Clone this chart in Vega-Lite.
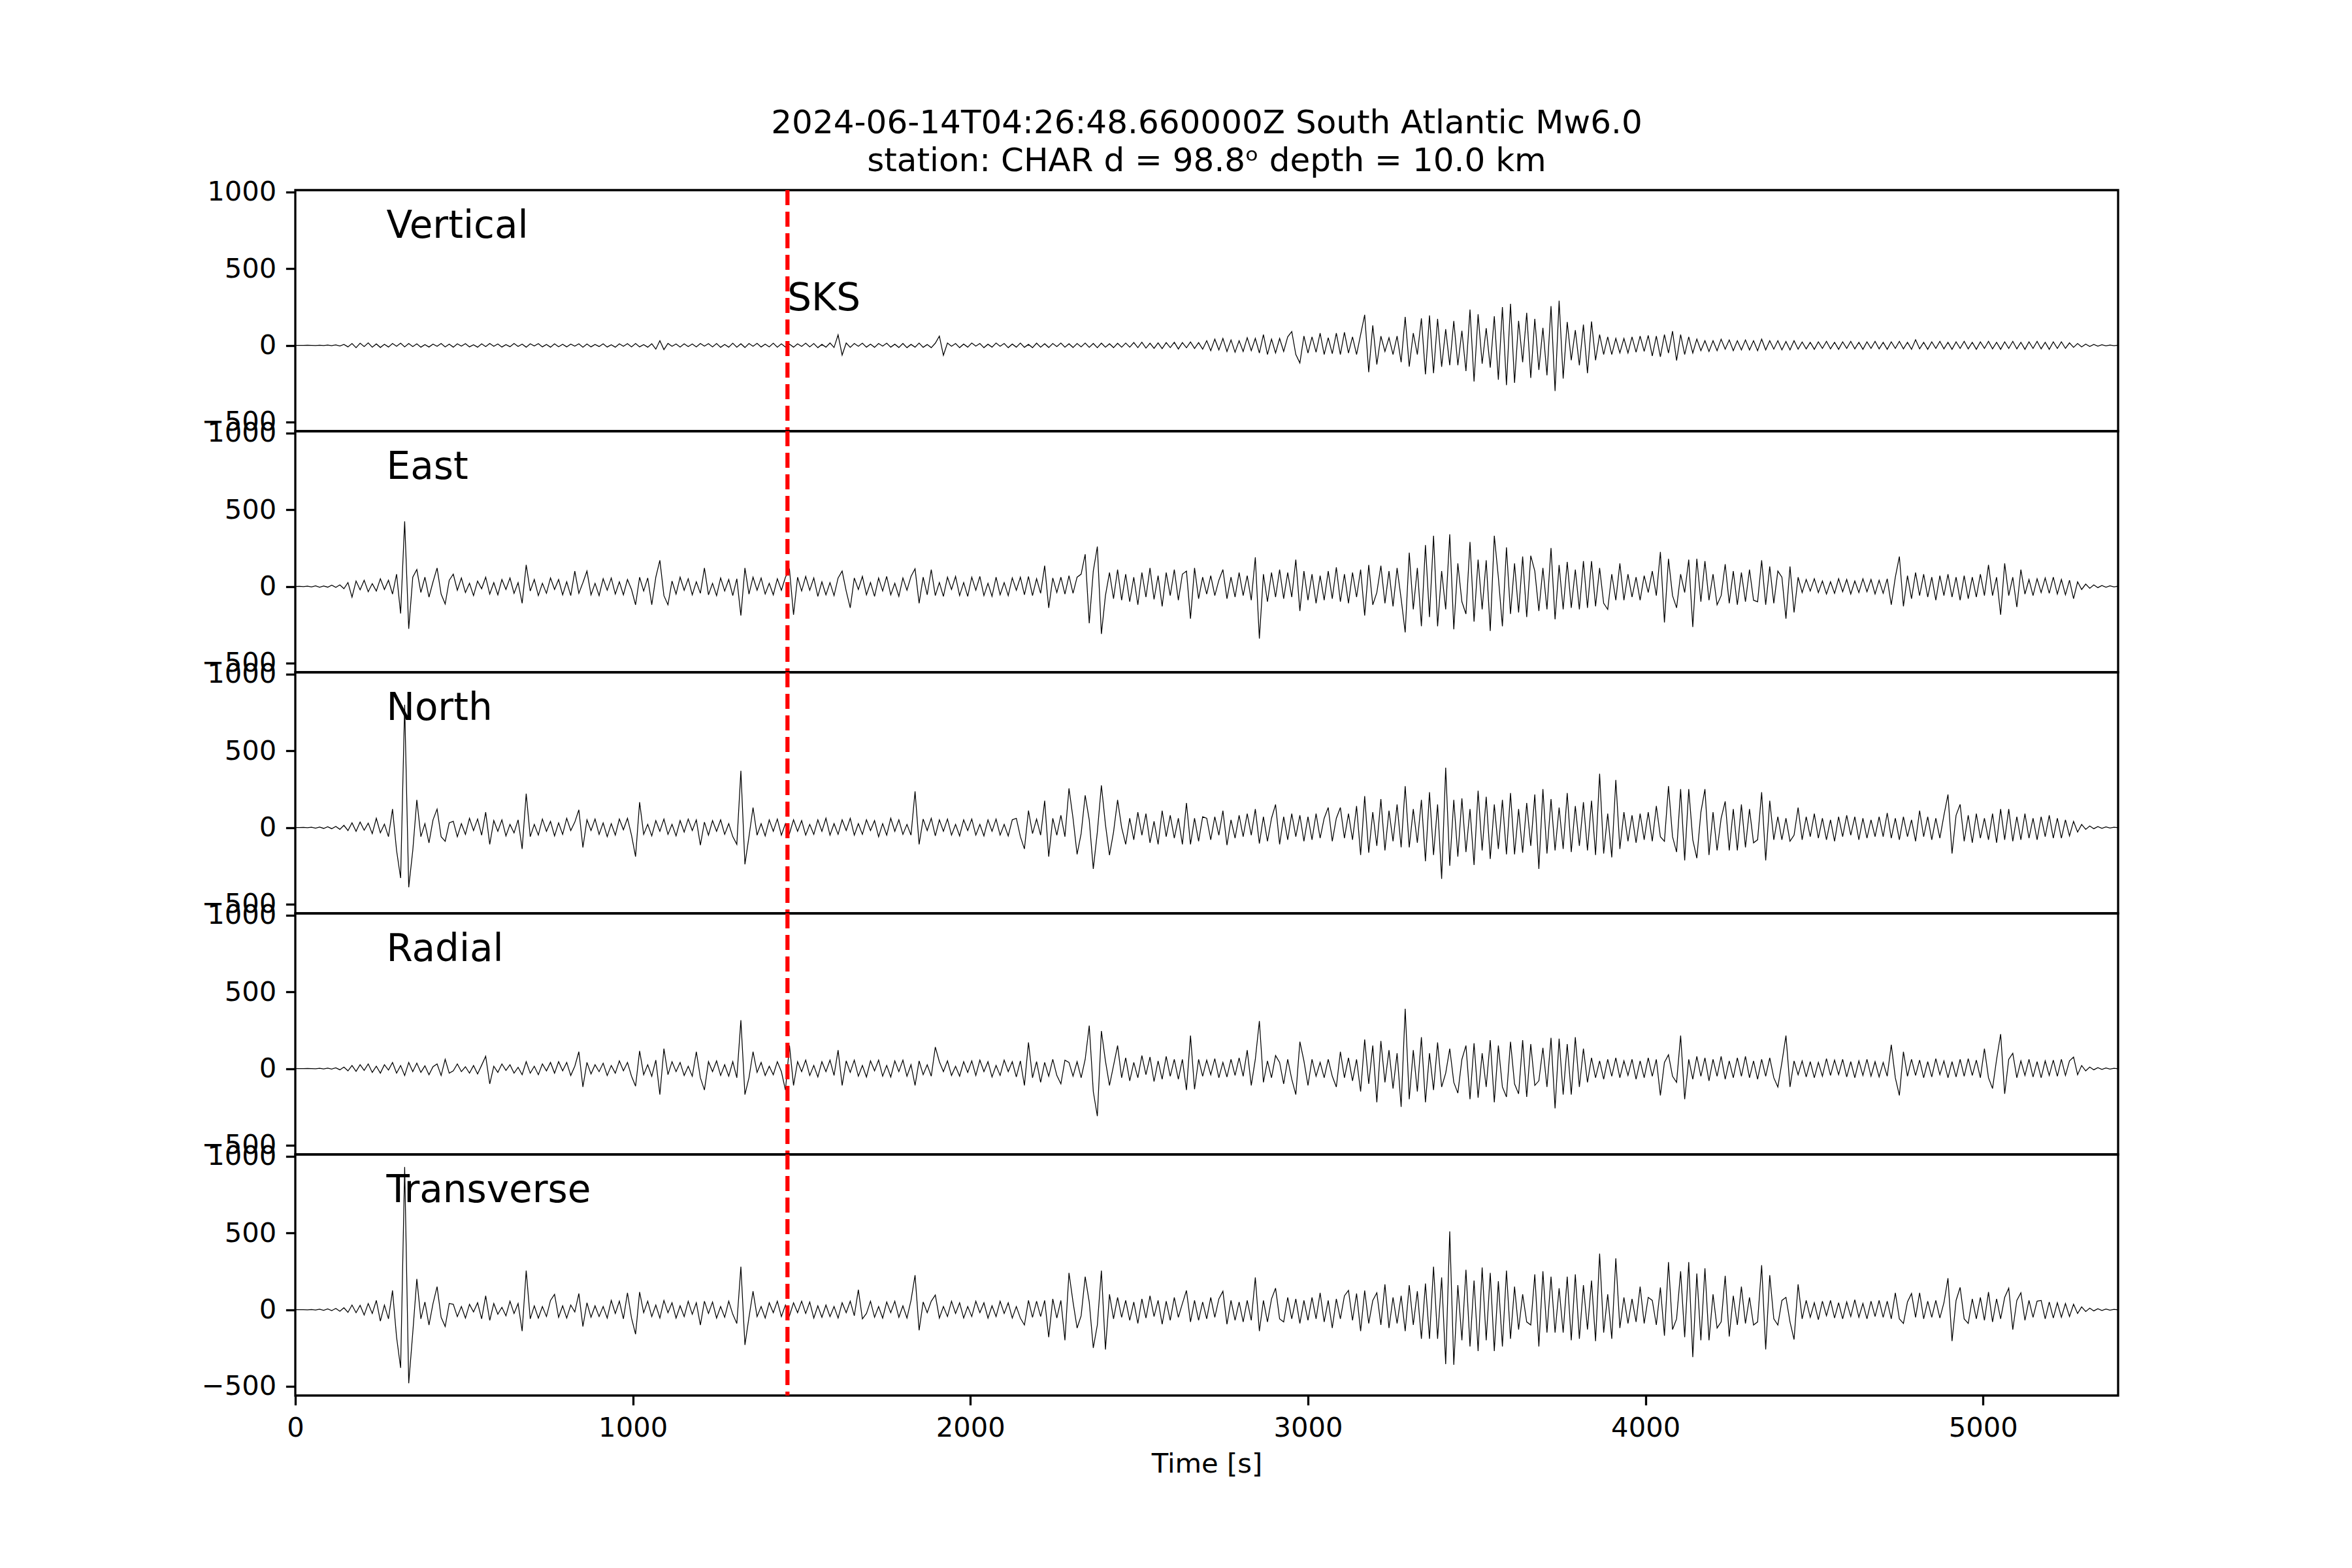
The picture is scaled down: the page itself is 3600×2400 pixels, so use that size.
{
"$schema": "https://vega.github.io/schema/vega-lite/v6.json",
"background": "white",
"padding": {"left": 306, "top": 164, "right": 20, "bottom": 20},
"title": {"text": ["2024-06-14T04:26:48.660000Z South Atlantic Mw6.0", "station: CHAR d = 98.8ᵒ depth = 10.0 km"], "font": "DejaVu Sans", "fontSize": 50, "fontWeight": "normal", "color": "black", "lineHeight": 58, "offset": 0, "anchor": "middle", "frame": "group"},
"data": {"values": [
{"t":0,"V":0,"E":0,"N":0,"R":0,"T":0},
{"t":12,"V":0,"E":1,"N":0,"R":0,"T":0},
{"t":24,"V":0,"E":-1,"N":1,"R":0,"T":0},
{"t":36,"V":1,"E":2,"N":-1,"R":1,"T":-1},
{"t":48,"V":0,"E":-3,"N":2,"R":0,"T":1},
{"t":60,"V":-1,"E":4,"N":-4,"R":-1,"T":-2},
{"t":72,"V":1,"E":-6,"N":3,"R":2,"T":3},
{"t":84,"V":-1,"E":3,"N":-6,"R":-2,"T":-4},
{"t":96,"V":2,"E":-5,"N":5,"R":3,"T":5},
{"t":108,"V":-2,"E":8,"N":-8,"R":-3,"T":-6},
{"t":120,"V":3,"E":-6,"N":7,"R":5,"T":8},
{"t":132,"V":-4,"E":10,"N":-12,"R":-8,"T":-10},
{"t":144,"V":6,"E":-15,"N":14,"R":10,"T":12},
{"t":156,"V":-10,"E":25,"N":-20,"R":-15,"T":-18},
{"t":168,"V":12,"E":-70,"N":30,"R":20,"T":30},
{"t":180,"V":-15,"E":35,"N":-25,"R":-18,"T":-20},
{"t":192,"V":14,"E":-22,"N":35,"R":25,"T":28},
{"t":204,"V":-8,"E":40,"N":-18,"R":-12,"T":-35},
{"t":216,"V":16,"E":-35,"N":28,"R":30,"T":40},
{"t":228,"V":-12,"E":18,"N":-40,"R":-25,"T":-25},
{"t":240,"V":9,"E":-30,"N":60,"R":15,"T":60},
{"t":252,"V":-14,"E":50,"N":-35,"R":-30,"T":-75},
{"t":264,"V":7,"E":-20,"N":22,"R":25,"T":30},
{"t":276,"V":-11,"E":40,"N":-60,"R":-10,"T":-60},
{"t":288,"V":12,"E":-50,"N":120,"R":40,"T":125},
{"t":300,"V":-6,"E":80,"N":-150,"R":-30,"T":-180},
{"t":312,"V":14,"E":-177,"N":-330,"R":20,"T":-380},
{"t":324,"V":-10,"E":424,"N":800,"R":-45,"T":930},
{"t":336,"V":12,"E":-277,"N":-390,"R":40,"T":-480},
{"t":348,"V":-8,"E":60,"N":-150,"R":-20,"T":-150},
{"t":360,"V":10,"E":110,"N":180,"R":35,"T":200},
{"t":372,"V":-12,"E":-40,"N":-60,"R":-25,"T":-60},
{"t":384,"V":5,"E":60,"N":25,"R":18,"T":50},
{"t":396,"V":-11,"E":-70,"N":-100,"R":-40,"T":-100},
{"t":408,"V":8,"E":30,"N":50,"R":12,"T":40},
{"t":420,"V":-6,"E":120,"N":120,"R":30,"T":150},
{"t":432,"V":12,"E":-50,"N":-60,"R":-45,"T":-50},
{"t":444,"V":-10,"E":-115,"N":-90,"R":60,"T":-110},
{"t":456,"V":8,"E":40,"N":30,"R":-30,"T":40},
{"t":468,"V":-12,"E":80,"N":40,"R":-15,"T":35},
{"t":480,"V":10,"E":-25,"N":-60,"R":30,"T":-45},
{"t":492,"V":-5,"E":55,"N":25,"R":-20,"T":20},
{"t":504,"V":11,"E":-40,"N":-45,"R":12,"T":-55},
{"t":516,"V":-10,"E":20,"N":60,"R":-30,"T":35},
{"t":528,"V":4,"E":-60,"N":-20,"R":20,"T":-15},
{"t":540,"V":-12,"E":35,"N":55,"R":-35,"T":45},
{"t":552,"V":10,"E":-15,"N":-50,"R":22,"T":-60},
{"t":564,"V":-8,"E":60,"N":100,"R":80,"T":90},
{"t":576,"V":12,"E":-50,"N":-110,"R":-100,"T":-70},
{"t":588,"V":-6,"E":25,"N":45,"R":15,"T":40},
{"t":600,"V":9,"E":-55,"N":-25,"R":-25,"T":-30},
{"t":612,"V":-11,"E":45,"N":50,"R":30,"T":15},
{"t":624,"V":5,"E":-20,"N":-55,"R":-12,"T":-40},
{"t":636,"V":-9,"E":55,"N":20,"R":25,"T":55},
{"t":648,"V":12,"E":-45,"N":-35,"R":-30,"T":-25},
{"t":660,"V":-7,"E":25,"N":50,"R":8,"T":40},
{"t":672,"V":8,"E":-110,"N":-140,"R":-40,"T":-140},
{"t":684,"V":-12,"E":140,"N":220,"R":45,"T":255},
{"t":696,"V":10,"E":-30,"N":-60,"R":-30,"T":-60},
{"t":708,"V":-4,"E":45,"N":20,"R":15,"T":25},
{"t":720,"V":11,"E":-60,"N":-50,"R":-40,"T":-55},
{"t":732,"V":-10,"E":20,"N":55,"R":30,"T":20},
{"t":744,"V":6,"E":-45,"N":-25,"R":-15,"T":-45},
{"t":756,"V":-12,"E":55,"N":40,"R":40,"T":60},
{"t":768,"V":10,"E":-20,"N":-55,"R":-30,"T":100},
{"t":780,"V":-9,"E":45,"N":30,"R":45,"T":-50},
{"t":792,"V":7,"E":-55,"N":-45,"R":-15,"T":25},
{"t":804,"V":-10,"E":30,"N":60,"R":40,"T":-55},
{"t":816,"V":8,"E":-60,"N":-20,"R":-45,"T":30},
{"t":828,"V":-5,"E":100,"N":35,"R":15,"T":-15},
{"t":840,"V":10,"E":-45,"N":115,"R":110,"T":105},
{"t":852,"V":-12,"E":25,"N":-130,"R":-120,"T":-110},
{"t":864,"V":9,"E":100,"N":50,"R":40,"T":45},
{"t":876,"V":-10,"E":-55,"N":-20,"R":-35,"T":-50},
{"t":888,"V":6,"E":20,"N":55,"R":25,"T":25},
{"t":900,"V":-8,"E":-60,"N":-45,"R":-20,"T":-45},
{"t":912,"V":10,"E":50,"N":30,"R":35,"T":20},
{"t":924,"V":-11,"E":-25,"N":-60,"R":-45,"T":-55},
{"t":936,"V":4,"E":55,"N":25,"R":20,"T":60},
{"t":948,"V":-12,"E":-50,"N":-50,"R":-30,"T":-25},
{"t":960,"V":10,"E":30,"N":55,"R":50,"T":55},
{"t":972,"V":-6,"E":-55,"N":-15,"R":-15,"T":-60},
{"t":984,"V":11,"E":45,"N":60,"R":40,"T":110},
{"t":996,"V":-10,"E":-20,"N":-50,"R":-50,"T":-55},
{"t":1008,"V":12,"E":-120,"N":-190,"R":-115,"T":-160},
{"t":1020,"V":-10,"E":60,"N":165,"R":115,"T":115},
{"t":1032,"V":5,"E":-30,"N":-45,"R":-40,"T":-20},
{"t":1044,"V":-12,"E":55,"N":20,"R":25,"T":55},
{"t":1056,"V":10,"E":-120,"N":-55,"R":-50,"T":-45},
{"t":1068,"V":-25,"E":60,"N":45,"R":55,"T":30},
{"t":1080,"V":30,"E":170,"N":-25,"R":-170,"T":-55},
{"t":1092,"V":-28,"E":-60,"N":55,"R":130,"T":60},
{"t":1104,"V":12,"E":-120,"N":-45,"R":-40,"T":-20},
{"t":1116,"V":-6,"E":35,"N":20,"R":45,"T":45},
{"t":1128,"V":9,"E":-50,"N":-55,"R":-20,"T":-55},
{"t":1140,"V":-11,"E":60,"N":45,"R":40,"T":25},
{"t":1152,"V":10,"E":-25,"N":-30,"R":-45,"T":-45},
{"t":1164,"V":-8,"E":50,"N":55,"R":15,"T":55},
{"t":1176,"V":9,"E":-55,"N":-20,"R":-50,"T":-30},
{"t":1188,"V":-10,"E":30,"N":50,"R":110,"T":45},
{"t":1200,"V":12,"E":-45,"N":-115,"R":-60,"T":-100},
{"t":1212,"V":-5,"E":120,"N":35,"R":-140,"T":55},
{"t":1224,"V":11,"E":-55,"N":-50,"R":45,"T":-25},
{"t":1236,"V":-10,"E":20,"N":45,"R":-20,"T":50},
{"t":1248,"V":12,"E":-60,"N":-25,"R":50,"T":-55},
{"t":1260,"V":-13,"E":55,"N":50,"R":-45,"T":20},
{"t":1272,"V":6,"E":-30,"N":-45,"R":25,"T":-50},
{"t":1284,"V":-12,"E":45,"N":25,"R":-50,"T":55},
{"t":1296,"V":14,"E":-60,"N":-60,"R":45,"T":-30},
{"t":1308,"V":-12,"E":50,"N":-110,"R":-60,"T":-90},
{"t":1320,"V":10,"E":-190,"N":370,"R":315,"T":280},
{"t":1332,"V":-14,"E":120,"N":-240,"R":-170,"T":-230},
{"t":1344,"V":12,"E":-50,"N":-60,"R":-60,"T":-50},
{"t":1356,"V":-6,"E":60,"N":130,"R":110,"T":120},
{"t":1368,"V":13,"E":-25,"N":-50,"R":-25,"T":-45},
{"t":1380,"V":-11,"E":55,"N":25,"R":40,"T":20},
{"t":1392,"V":8,"E":-50,"N":-55,"R":-45,"T":-55},
{"t":1404,"V":-10,"E":20,"N":50,"R":15,"T":45},
{"t":1416,"V":14,"E":-55,"N":-25,"R":-40,"T":-20},
{"t":1428,"V":-12,"E":50,"N":55,"R":45,"T":55},
{"t":1440,"V":10,"E":-25,"N":-50,"R":-20,"T":-45},
{"t":1452,"V":-11,"E":60,"N":25,"R":-140,"T":30},
{"t":1464,"V":8,"E":110,"N":-40,"R":150,"T":-40},
{"t":1476,"V":-12,"E":-185,"N":50,"R":-110,"T":45},
{"t":1488,"V":10,"E":60,"N":-25,"R":45,"T":-20},
{"t":1500,"V":-7,"E":-30,"N":45,"R":-20,"T":55},
{"t":1512,"V":14,"E":65,"N":-50,"R":55,"T":-25},
{"t":1524,"V":-10,"E":-25,"N":20,"R":-45,"T":50},
{"t":1536,"V":12,"E":55,"N":-45,"R":20,"T":-55},
{"t":1548,"V":-15,"E":-65,"N":50,"R":-55,"T":25},
{"t":1560,"V":6,"E":30,"N":-25,"R":45,"T":-50},
{"t":1572,"V":-12,"E":-55,"N":60,"R":-20,"T":30},
{"t":1584,"V":15,"E":25,"N":-50,"R":55,"T":-45},
{"t":1596,"V":-14,"E":-60,"N":25,"R":-45,"T":20},
{"t":1608,"V":68,"E":55,"N":-45,"R":120,"T":-55},
{"t":1620,"V":-64,"E":100,"N":50,"R":-110,"T":45},
{"t":1632,"V":15,"E":-30,"N":-20,"R":50,"T":-20},
{"t":1644,"V":-13,"E":-140,"N":60,"R":-25,"T":55},
{"t":1656,"V":12,"E":55,"N":-50,"R":55,"T":-40},
{"t":1668,"V":-6,"E":-20,"N":25,"R":-50,"T":130},
{"t":1680,"V":14,"E":65,"N":-45,"R":20,"T":-60},
{"t":1692,"V":-12,"E":-55,"N":50,"R":-55,"T":-25},
{"t":1704,"V":8,"E":25,"N":-20,"R":50,"T":55},
{"t":1716,"V":-13,"E":-65,"N":45,"R":-15,"T":-50},
{"t":1728,"V":12,"E":55,"N":-60,"R":55,"T":20},
{"t":1740,"V":-5,"E":-30,"N":25,"R":-50,"T":-55},
{"t":1752,"V":14,"E":65,"N":-50,"R":20,"T":50},
{"t":1764,"V":-12,"E":-55,"N":60,"R":-55,"T":-20},
{"t":1776,"V":7,"E":20,"N":-25,"R":50,"T":55},
{"t":1788,"V":-14,"E":-65,"N":50,"R":-20,"T":-50},
{"t":1800,"V":12,"E":55,"N":-45,"R":55,"T":25},
{"t":1812,"V":-15,"E":-25,"N":20,"R":-50,"T":-55},
{"t":1824,"V":6,"E":65,"N":-50,"R":25,"T":60},
{"t":1836,"V":-12,"E":115,"N":235,"R":-110,"T":225},
{"t":1848,"V":15,"E":-110,"N":-110,"R":50,"T":-135},
{"t":1860,"V":-13,"E":60,"N":55,"R":-40,"T":50},
{"t":1872,"V":5,"E":-55,"N":-20,"R":25,"T":-20},
{"t":1884,"V":-15,"E":110,"N":60,"R":-50,"T":55},
{"t":1896,"V":14,"E":-60,"N":-55,"R":140,"T":95},
{"t":1908,"V":60,"E":25,"N":50,"R":45,"T":-55},
{"t":1920,"V":-65,"E":-65,"N":-25,"R":-20,"T":20},
{"t":1932,"V":15,"E":60,"N":55,"R":50,"T":-45},
{"t":1944,"V":-6,"E":-20,"N":-50,"R":-45,"T":55},
{"t":1956,"V":12,"E":65,"N":20,"R":15,"T":-25},
{"t":1968,"V":-15,"E":-60,"N":-55,"R":-50,"T":45},
{"t":1980,"V":8,"E":25,"N":50,"R":45,"T":-55},
{"t":1992,"V":-12,"E":-65,"N":-20,"R":-25,"T":20},
{"t":2004,"V":15,"E":60,"N":55,"R":50,"T":-45},
{"t":2016,"V":-5,"E":-25,"N":-50,"R":-45,"T":55},
{"t":2028,"V":12,"E":65,"N":20,"R":55,"T":-20},
{"t":2040,"V":-15,"E":-60,"N":-55,"R":-20,"T":45},
{"t":2052,"V":7,"E":20,"N":50,"R":45,"T":-55},
{"t":2064,"V":-12,"E":-65,"N":-25,"R":-55,"T":25},
{"t":2076,"V":15,"E":60,"N":55,"R":20,"T":-45},
{"t":2088,"V":-6,"E":-55,"N":-50,"R":-45,"T":55},
{"t":2100,"V":12,"E":25,"N":20,"R":55,"T":-25},
{"t":2112,"V":-15,"E":-60,"N":-55,"R":-20,"T":45},
{"t":2124,"V":8,"E":55,"N":50,"R":45,"T":-55},
{"t":2136,"V":-12,"E":-25,"N":60,"R":-55,"T":20},
{"t":2148,"V":15,"E":60,"N":-60,"R":50,"T":-55},
{"t":2160,"V":-13,"E":-55,"N":-140,"R":-110,"T":-100},
{"t":2172,"V":6,"E":65,"N":110,"R":170,"T":60},
{"t":2184,"V":-15,"E":-60,"N":-40,"R":-60,"T":-50},
{"t":2196,"V":14,"E":50,"N":55,"R":45,"T":55},
{"t":2208,"V":-12,"E":-45,"N":-50,"R":-90,"T":-45},
{"t":2220,"V":10,"E":135,"N":175,"R":40,"T":60},
{"t":2232,"V":-14,"E":-140,"N":-190,"R":-50,"T":-180},
{"t":2244,"V":12,"E":55,"N":60,"R":60,"T":70},
{"t":2256,"V":-8,"E":-40,"N":-50,"R":-45,"T":-55},
{"t":2268,"V":15,"E":60,"N":80,"R":-100,"T":60},
{"t":2280,"V":-12,"E":-50,"N":-60,"R":55,"T":-200},
{"t":2292,"V":10,"E":70,"N":255,"R":40,"T":240},
{"t":2304,"V":-14,"E":-45,"N":60,"R":-50,"T":50},
{"t":2316,"V":12,"E":60,"N":-175,"R":45,"T":-120},
{"t":2328,"V":-10,"E":80,"N":-40,"R":-60,"T":-40},
{"t":2340,"V":15,"E":210,"N":210,"R":60,"T":215},
{"t":2352,"V":-13,"E":-240,"N":50,"R":280,"T":50},
{"t":2364,"V":12,"E":100,"N":-270,"R":-150,"T":-250},
{"t":2376,"V":-15,"E":260,"N":-30,"R":-310,"T":-100},
{"t":2388,"V":14,"E":-310,"N":275,"R":245,"T":255},
{"t":2400,"V":-12,"E":-60,"N":20,"R":50,"T":-260},
{"t":2412,"V":10,"E":90,"N":-180,"R":-110,"T":100},
{"t":2424,"V":-15,"E":-80,"N":-30,"R":20,"T":-60},
{"t":2436,"V":13,"E":110,"N":180,"R":150,"T":80},
{"t":2448,"V":-12,"E":-90,"N":0,"R":-60,"T":-50},
{"t":2460,"V":15,"E":80,"N":-110,"R":70,"T":60},
{"t":2472,"V":-12,"E":-100,"N":60,"R":-80,"T":-70},
{"t":2484,"V":18,"E":60,"N":-80,"R":40,"T":50},
{"t":2496,"V":-15,"E":-120,"N":100,"R":-60,"T":-90},
{"t":2508,"V":20,"E":90,"N":-50,"R":85,"T":70},
{"t":2520,"V":-18,"E":-70,"N":90,"R":-40,"T":-55},
{"t":2532,"V":14,"E":120,"N":-100,"R":75,"T":90},
{"t":2544,"V":-20,"E":-85,"N":40,"R":-85,"T":-45},
{"t":2556,"V":16,"E":70,"N":-110,"R":50,"T":60},
{"t":2568,"V":-22,"E":-130,"N":110,"R":-70,"T":-95},
{"t":2580,"V":18,"E":90,"N":-60,"R":80,"T":55},
{"t":2592,"V":-15,"E":-60,"N":80,"R":-50,"T":-70},
{"t":2604,"V":20,"E":110,"N":-70,"R":60,"T":80},
{"t":2616,"V":-24,"E":-90,"N":60,"R":-70,"T":-50},
{"t":2628,"V":18,"E":80,"N":-110,"R":60,"T":40},
{"t":2640,"V":-16,"E":100,"N":160,"R":-140,"T":125},
{"t":2652,"V":22,"E":-210,"N":-110,"R":215,"T":-80},
{"t":2664,"V":-20,"E":120,"N":60,"R":-135,"T":60},
{"t":2676,"V":18,"E":-80,"N":-90,"R":60,"T":-70},
{"t":2688,"V":-25,"E":60,"N":70,"R":-50,"T":50},
{"t":2700,"V":30,"E":-50,"N":60,"R":55,"T":-60},
{"t":2712,"V":-35,"E":70,"N":-80,"R":-40,"T":80},
{"t":2724,"V":40,"E":-60,"N":70,"R":65,"T":-50},
{"t":2736,"V":-30,"E":40,"N":-50,"R":-60,"T":70},
{"t":2748,"V":45,"E":110,"N":110,"R":40,"T":120},
{"t":2760,"V":-40,"E":-80,"N":-115,"R":-55,"T":-95},
{"t":2772,"V":35,"E":60,"N":50,"R":60,"T":60},
{"t":2784,"V":-45,"E":-70,"N":-70,"R":-45,"T":-70},
{"t":2796,"V":30,"E":90,"N":80,"R":70,"T":50},
{"t":2808,"V":-40,"E":-60,"N":-60,"R":-50,"T":-80},
{"t":2820,"V":50,"E":70,"N":90,"R":120,"T":60},
{"t":2832,"V":-35,"E":-90,"N":-50,"R":-110,"T":-70},
{"t":2844,"V":45,"E":190,"N":120,"R":60,"T":210},
{"t":2856,"V":-50,"E":-340,"N":-105,"R":310,"T":-140},
{"t":2868,"V":70,"E":80,"N":70,"R":-90,"T":60},
{"t":2880,"V":-60,"E":-100,"N":-90,"R":50,"T":-80},
{"t":2892,"V":40,"E":90,"N":60,"R":-60,"T":70},
{"t":2904,"V":-50,"E":-70,"N":150,"R":85,"T":140},
{"t":2916,"V":45,"E":110,"N":-110,"R":40,"T":-60},
{"t":2928,"V":-40,"E":-80,"N":70,"R":-100,"T":-80},
{"t":2940,"V":55,"E":90,"N":-80,"R":60,"T":80},
{"t":2952,"V":90,"E":-70,"N":90,"R":-70,"T":-60},
{"t":2964,"V":-60,"E":175,"N":-60,"R":-170,"T":70},
{"t":2976,"V":-115,"E":-160,"N":80,"R":175,"T":-90},
{"t":2988,"V":60,"E":100,"N":-90,"R":50,"T":60},
{"t":3000,"V":-50,"E":-90,"N":70,"R":-110,"T":-70},
{"t":3012,"V":55,"E":80,"N":-80,"R":60,"T":80},
{"t":3024,"V":-45,"E":-110,"N":90,"R":-50,"T":-60},
{"t":3036,"V":80,"E":70,"N":-70,"R":40,"T":110},
{"t":3048,"V":-60,"E":-90,"N":60,"R":-60,"T":-80},
{"t":3060,"V":50,"E":100,"N":130,"R":60,"T":60},
{"t":3072,"V":-55,"E":-80,"N":-90,"R":-50,"T":-120},
{"t":3084,"V":80,"E":125,"N":60,"R":-120,"T":70},
{"t":3096,"V":-60,"E":-100,"N":130,"R":110,"T":-60},
{"t":3108,"V":85,"E":80,"N":-70,"R":-60,"T":90},
{"t":3120,"V":-50,"E":-110,"N":90,"R":70,"T":125},
{"t":3132,"V":55,"E":90,"N":-80,"R":-80,"T":-70},
{"t":3144,"V":-60,"E":-70,"N":140,"R":60,"T":105},
{"t":3156,"V":70,"E":110,"N":-180,"R":-150,"T":-140},
{"t":3168,"V":199,"E":-190,"N":205,"R":190,"T":125},
{"t":3180,"V":-175,"E":140,"N":-165,"R":-100,"T":-90},
{"t":3192,"V":130,"E":-120,"N":100,"R":150,"T":60},
{"t":3204,"V":-125,"E":-40,"N":-120,"R":-220,"T":110},
{"t":3216,"V":60,"E":135,"N":185,"R":180,"T":-100},
{"t":3228,"V":-40,"E":-110,"N":-150,"R":-90,"T":165},
{"t":3240,"V":50,"E":100,"N":110,"R":120,"T":-120},
{"t":3252,"V":-60,"E":-130,"N":-90,"R":-130,"T":80},
{"t":3264,"V":60,"E":120,"N":150,"R":100,"T":-90},
{"t":3276,"V":-110,"E":-80,"N":-130,"R":-250,"T":90},
{"t":3288,"V":185,"E":-300,"N":270,"R":390,"T":-140},
{"t":3300,"V":-139,"E":220,"N":-130,"R":-200,"T":160},
{"t":3312,"V":80,"E":-150,"N":120,"R":120,"T":-100},
{"t":3324,"V":-60,"E":120,"N":-100,"R":-150,"T":120},
{"t":3336,"V":176,"E":-260,"N":180,"R":205,"T":-190},
{"t":3348,"V":-189,"E":270,"N":-220,"R":-220,"T":170},
{"t":3360,"V":195,"E":-200,"N":230,"R":100,"T":-190},
{"t":3372,"V":-182,"E":330,"N":-180,"R":-140,"T":280},
{"t":3384,"V":173,"E":-260,"N":150,"R":170,"T":-190},
{"t":3396,"V":-140,"E":100,"N":-335,"R":-120,"T":210},
{"t":3408,"V":105,"E":-150,"N":390,"R":-30,"T":-355},
{"t":3420,"V":-130,"E":340,"N":-250,"R":130,"T":510},
{"t":3432,"V":159,"E":-280,"N":180,"R":-90,"T":-360},
{"t":3444,"V":-130,"E":150,"N":-190,"R":-160,"T":160},
{"t":3456,"V":95,"E":-100,"N":190,"R":60,"T":-200},
{"t":3468,"V":-168,"E":-180,"N":-160,"R":150,"T":260},
{"t":3480,"V":233,"E":290,"N":120,"R":-200,"T":-240},
{"t":3492,"V":-236,"E":-230,"N":-245,"R":165,"T":190},
{"t":3504,"V":202,"E":175,"N":240,"R":-190,"T":-270},
{"t":3516,"V":-120,"E":-150,"N":-150,"R":100,"T":275},
{"t":3528,"V":112,"E":170,"N":200,"R":-120,"T":-200},
{"t":3540,"V":-145,"E":-290,"N":-205,"R":185,"T":240},
{"t":3552,"V":190,"E":330,"N":150,"R":-220,"T":-270},
{"t":3564,"V":-224,"E":60,"N":-140,"R":150,"T":185},
{"t":3576,"V":249,"E":-260,"N":180,"R":-120,"T":-240},
{"t":3588,"V":-260,"E":255,"N":-175,"R":-185,"T":255},
{"t":3600,"V":271,"E":-180,"N":225,"R":175,"T":-190},
{"t":3612,"V":-245,"E":150,"N":-175,"R":-100,"T":150},
{"t":3624,"V":160,"E":-170,"N":120,"R":-165,"T":-130},
{"t":3636,"V":-110,"E":195,"N":-165,"R":185,"T":100},
{"t":3648,"V":212,"E":-200,"N":160,"R":-185,"T":-80},
{"t":3660,"V":-213,"E":200,"N":-120,"R":160,"T":-100},
{"t":3672,"V":173,"E":100,"N":215,"R":-110,"T":230},
{"t":3684,"V":-160,"E":-160,"N":-270,"R":-80,"T":-240},
{"t":3696,"V":114,"E":120,"N":250,"R":135,"T":250},
{"t":3708,"V":-196,"E":-150,"N":-170,"R":-120,"T":-150},
{"t":3720,"V":256,"E":250,"N":185,"R":200,"T":215},
{"t":3732,"V":-298,"E":-215,"N":-150,"R":-260,"T":-150},
{"t":3744,"V":291,"E":140,"N":130,"R":195,"T":140},
{"t":3756,"V":-217,"E":-150,"N":-140,"R":-170,"T":-150},
{"t":3768,"V":152,"E":160,"N":225,"R":160,"T":215},
{"t":3780,"V":-97,"E":-140,"N":-160,"R":-170,"T":-200},
{"t":3792,"V":99,"E":110,"N":140,"R":205,"T":230},
{"t":3804,"V":-131,"E":-150,"N":-120,"R":-120,"T":-190},
{"t":3816,"V":135,"E":165,"N":165,"R":130,"T":160},
{"t":3828,"V":-182,"E":-140,"N":-150,"R":-90,"T":-130},
{"t":3840,"V":155,"E":165,"N":175,"R":70,"T":190},
{"t":3852,"V":-97,"E":-130,"N":-180,"R":-60,"T":-205},
{"t":3864,"V":70,"E":120,"N":350,"R":50,"T":365},
{"t":3876,"V":-60,"E":-110,"N":-170,"R":-70,"T":-150},
{"t":3888,"V":55,"E":-150,"N":90,"R":60,"T":100},
{"t":3900,"V":-60,"E":80,"N":-195,"R":-50,"T":-190},
{"t":3912,"V":45,"E":-90,"N":310,"R":70,"T":335},
{"t":3924,"V":-50,"E":150,"N":-140,"R":-60,"T":-120},
{"t":3936,"V":45,"E":-90,"N":100,"R":50,"T":80},
{"t":3948,"V":-50,"E":80,"N":-90,"R":-45,"T":-90},
{"t":3960,"V":55,"E":-70,"N":80,"R":60,"T":70},
{"t":3972,"V":-45,"E":60,"N":-100,"R":-70,"T":-80},
{"t":3984,"V":60,"E":-90,"N":90,"R":50,"T":150},
{"t":3996,"V":-40,"E":70,"N":-80,"R":-60,"T":-90},
{"t":4008,"V":65,"E":-40,"N":100,"R":70,"T":80},
{"t":4020,"V":-70,"E":100,"N":-90,"R":-50,"T":60},
{"t":4032,"V":60,"E":-60,"N":140,"R":60,"T":-100},
{"t":4044,"V":-75,"E":225,"N":-60,"R":-175,"T":145},
{"t":4056,"V":70,"E":-235,"N":-90,"R":40,"T":-170},
{"t":4068,"V":-50,"E":180,"N":270,"R":90,"T":310},
{"t":4080,"V":92,"E":-60,"N":-60,"R":-50,"T":-130},
{"t":4092,"V":-99,"E":-140,"N":-160,"R":-90,"T":-60},
{"t":4104,"V":70,"E":80,"N":250,"R":215,"T":250},
{"t":4116,"V":-60,"E":-40,"N":-215,"R":-200,"T":-180},
{"t":4128,"V":55,"E":175,"N":250,"R":60,"T":310},
{"t":4140,"V":-50,"E":-265,"N":-80,"R":-70,"T":-310},
{"t":4152,"V":40,"E":180,"N":-200,"R":80,"T":235},
{"t":4164,"V":-35,"E":-100,"N":100,"R":-50,"T":-200},
{"t":4176,"V":30,"E":165,"N":250,"R":70,"T":270},
{"t":4188,"V":-40,"E":-90,"N":-180,"R":-80,"T":-200},
{"t":4200,"V":30,"E":80,"N":100,"R":60,"T":100},
{"t":4212,"V":-35,"E":-120,"N":-150,"R":-50,"T":-120},
{"t":4224,"V":40,"E":-60,"N":60,"R":80,"T":-80},
{"t":4236,"V":-25,"E":145,"N":170,"R":-70,"T":220},
{"t":4248,"V":35,"E":-110,"N":-150,"R":50,"T":-175},
{"t":4260,"V":-35,"E":100,"N":120,"R":-60,"T":90},
{"t":4272,"V":30,"E":-120,"N":-150,"R":70,"T":-100},
{"t":4284,"V":-30,"E":90,"N":150,"R":-50,"T":150},
{"t":4296,"V":35,"E":-100,"N":-130,"R":80,"T":-90},
{"t":4308,"V":-30,"E":110,"N":120,"R":-60,"T":80},
{"t":4320,"V":30,"E":-90,"N":-100,"R":50,"T":-100},
{"t":4332,"V":-35,"E":-100,"N":-80,"R":-70,"T":-80},
{"t":4344,"V":40,"E":170,"N":230,"R":60,"T":290},
{"t":4356,"V":-30,"E":-120,"N":-215,"R":-50,"T":-260},
{"t":4368,"V":30,"E":130,"N":175,"R":70,"T":225},
{"t":4380,"V":-25,"E":-110,"N":-80,"R":-60,"T":-60},
{"t":4392,"V":30,"E":100,"N":70,"R":-120,"T":-100},
{"t":4404,"V":-30,"E":60,"N":-80,"R":40,"T":60},
{"t":4416,"V":25,"E":-210,"N":60,"R":215,"T":80},
{"t":4428,"V":-30,"E":130,"N":-90,"R":-120,"T":-80},
{"t":4440,"V":30,"E":-170,"N":-50,"R":50,"T":-195},
{"t":4452,"V":-25,"E":60,"N":130,"R":-40,"T":165},
{"t":4464,"V":22,"E":-40,"N":-80,"R":50,"T":-60},
{"t":4476,"V":-23,"E":45,"N":70,"R":-55,"T":60},
{"t":4488,"V":20,"E":-30,"N":-60,"R":45,"T":-50},
{"t":4500,"V":-26,"E":50,"N":90,"R":-60,"T":45},
{"t":4512,"V":23,"E":-40,"N":-70,"R":40,"T":-65},
{"t":4524,"V":-20,"E":35,"N":60,"R":-50,"T":55},
{"t":4536,"V":26,"E":-50,"N":-80,"R":65,"T":-40},
{"t":4548,"V":-23,"E":30,"N":50,"R":-45,"T":60},
{"t":4560,"V":20,"E":-45,"N":-90,"R":55,"T":-55},
{"t":4572,"V":-26,"E":50,"N":70,"R":-40,"T":45},
{"t":4584,"V":23,"E":-35,"N":-60,"R":60,"T":-60},
{"t":4596,"V":-20,"E":45,"N":80,"R":-55,"T":50},
{"t":4608,"V":26,"E":-50,"N":-50,"R":45,"T":-45},
{"t":4620,"V":-23,"E":35,"N":70,"R":-60,"T":65},
{"t":4632,"V":20,"E":-40,"N":-80,"R":50,"T":-50},
{"t":4644,"V":-26,"E":50,"N":60,"R":-45,"T":40},
{"t":4656,"V":23,"E":-35,"N":-70,"R":60,"T":-60},
{"t":4668,"V":-20,"E":45,"N":50,"R":-50,"T":55},
{"t":4680,"V":26,"E":-50,"N":-60,"R":45,"T":-45},
{"t":4692,"V":-23,"E":40,"N":70,"R":-55,"T":60},
{"t":4704,"V":20,"E":-45,"N":-60,"R":40,"T":-50},
{"t":4716,"V":-26,"E":50,"N":95,"R":-50,"T":55},
{"t":4728,"V":23,"E":-120,"N":-70,"R":155,"T":-60},
{"t":4740,"V":-20,"E":60,"N":60,"R":-60,"T":110},
{"t":4752,"V":26,"E":195,"N":-80,"R":-175,"T":-60},
{"t":4764,"V":-23,"E":-130,"N":70,"R":110,"T":-90},
{"t":4776,"V":20,"E":70,"N":-60,"R":-50,"T":50},
{"t":4788,"V":-26,"E":-80,"N":50,"R":60,"T":105},
{"t":4800,"V":36,"E":90,"N":-90,"R":-45,"T":-50},
{"t":4812,"V":-23,"E":-60,"N":110,"R":55,"T":110},
{"t":4824,"V":20,"E":80,"N":-60,"R":-60,"T":-60},
{"t":4836,"V":-26,"E":-70,"N":70,"R":45,"T":55},
{"t":4848,"V":23,"E":60,"N":-80,"R":-55,"T":-50},
{"t":4860,"V":-20,"E":-90,"N":60,"R":65,"T":60},
{"t":4872,"V":26,"E":70,"N":-70,"R":-40,"T":-55},
{"t":4884,"V":-23,"E":-60,"N":80,"R":50,"T":45},
{"t":4896,"V":20,"E":80,"N":215,"R":-60,"T":205},
{"t":4908,"V":-26,"E":-70,"N":-170,"R":45,"T":-205},
{"t":4920,"V":23,"E":60,"N":80,"R":-55,"T":60},
{"t":4932,"V":-20,"E":-90,"N":150,"R":60,"T":145},
{"t":4944,"V":26,"E":70,"N":-90,"R":-50,"T":-60},
{"t":4956,"V":-23,"E":-80,"N":80,"R":65,"T":-90},
{"t":4968,"V":20,"E":60,"N":-100,"R":-45,"T":70},
{"t":4980,"V":-26,"E":-70,"N":90,"R":55,"T":-60},
{"t":4992,"V":23,"E":80,"N":-70,"R":-60,"T":80},
{"t":5004,"V":-20,"E":-60,"N":60,"R":130,"T":-70},
{"t":5016,"V":26,"E":140,"N":-80,"R":-60,"T":115},
{"t":5028,"V":-23,"E":-60,"N":90,"R":-130,"T":-80},
{"t":5040,"V":20,"E":60,"N":-100,"R":60,"T":70},
{"t":5052,"V":-26,"E":-185,"N":120,"R":225,"T":-60},
{"t":5064,"V":23,"E":150,"N":-80,"R":-165,"T":80},
{"t":5076,"V":-20,"E":-60,"N":120,"R":60,"T":140},
{"t":5088,"V":26,"E":60,"N":-90,"R":100,"T":-130},
{"t":5100,"V":-23,"E":-135,"N":70,"R":-60,"T":60},
{"t":5112,"V":20,"E":110,"N":-80,"R":50,"T":110},
{"t":5124,"V":-26,"E":-50,"N":90,"R":-45,"T":-70},
{"t":5136,"V":23,"E":45,"N":-70,"R":60,"T":60},
{"t":5148,"V":-20,"E":-60,"N":60,"R":-55,"T":-50},
{"t":5160,"V":26,"E":50,"N":-80,"R":45,"T":55},
{"t":5172,"V":-23,"E":-40,"N":70,"R":-60,"T":60},
{"t":5184,"V":20,"E":55,"N":-60,"R":50,"T":-60},
{"t":5196,"V":-26,"E":-45,"N":80,"R":-45,"T":50},
{"t":5208,"V":23,"E":60,"N":-70,"R":55,"T":-55},
{"t":5220,"V":-20,"E":-50,"N":60,"R":-50,"T":45},
{"t":5232,"V":23,"E":45,"N":-70,"R":60,"T":-50},
{"t":5244,"V":-20,"E":-55,"N":50,"R":-45,"T":40},
{"t":5256,"V":16,"E":40,"N":-55,"R":50,"T":-45},
{"t":5268,"V":-13,"E":-80,"N":40,"R":75,"T":35},
{"t":5280,"V":12,"E":30,"N":-30,"R":-40,"T":-25},
{"t":5292,"V":-10,"E":-20,"N":20,"R":20,"T":18},
{"t":5304,"V":8,"E":15,"N":-12,"R":-15,"T":-12},
{"t":5316,"V":-7,"E":-12,"N":10,"R":10,"T":10},
{"t":5328,"V":6,"E":10,"N":-8,"R":-8,"T":-8},
{"t":5340,"V":-5,"E":-8,"N":6,"R":6,"T":6},
{"t":5352,"V":4,"E":6,"N":-5,"R":-5,"T":-5},
{"t":5364,"V":-3,"E":-5,"N":4,"R":4,"T":4},
{"t":5376,"V":2,"E":4,"N":-3,"R":-3,"T":-3},
{"t":5388,"V":-2,"E":-3,"N":2,"R":2,"T":2},
{"t":5400,"V":1,"E":2,"N":-1,"R":-1,"T":-1}
]},
"spacing": 0,
"bounds": "flush",
"vconcat": [
{"width": 2790, "height": 369, "layer": [
 {"mark": {"type": "line", "color": "black", "strokeWidth": 1.25}, "encoding": {"x": {"field": "t", "type": "quantitative", "scale": {"domain": [0, 5400], "nice": false, "zero": false}, "axis": null}, "y": {"field": "V", "type": "quantitative", "scale": {"domain": [-560, 1012], "nice": false, "zero": false}, "axis": {"values": [-500, 0, 500, 1000], "format": "d", "title": null}}}},
 {"data": {"values": [{"t": 1458}]}, "mark": {"type": "rule", "color": "red", "strokeWidth": 6.25, "strokeDash": [23, 10]}, "encoding": {"x": {"field": "t", "type": "quantitative"}}},
 {"data": {"values": [{"t": 270, "V": 700, "label": "Vertical"}, {"t": 1458, "V": 230, "label": "SKS"}]}, "mark": {"type": "text", "align": "left", "baseline": "alphabetic", "font": "DejaVu Sans", "fontSize": 58, "color": "black"}, "encoding": {"x": {"field": "t", "type": "quantitative"}, "y": {"field": "V", "type": "quantitative"}, "text": {"field": "label"}}}
]},
{"width": 2790, "height": 369, "layer": [
 {"mark": {"type": "line", "color": "black", "strokeWidth": 1.25}, "encoding": {"x": {"field": "t", "type": "quantitative", "scale": {"domain": [0, 5400], "nice": false, "zero": false}, "axis": null}, "y": {"field": "E", "type": "quantitative", "scale": {"domain": [-560, 1012], "nice": false, "zero": false}, "axis": {"values": [-500, 0, 500, 1000], "format": "d", "title": null}}}},
 {"data": {"values": [{"t": 1458}]}, "mark": {"type": "rule", "color": "red", "strokeWidth": 6.25, "strokeDash": [23, 10]}, "encoding": {"x": {"field": "t", "type": "quantitative"}}},
 {"data": {"values": [{"t": 270, "E": 700, "label": "East"}]}, "mark": {"type": "text", "align": "left", "baseline": "alphabetic", "font": "DejaVu Sans", "fontSize": 58, "color": "black"}, "encoding": {"x": {"field": "t", "type": "quantitative"}, "y": {"field": "E", "type": "quantitative"}, "text": {"field": "label"}}}
]},
{"width": 2790, "height": 369, "layer": [
 {"mark": {"type": "line", "color": "black", "strokeWidth": 1.25}, "encoding": {"x": {"field": "t", "type": "quantitative", "scale": {"domain": [0, 5400], "nice": false, "zero": false}, "axis": null}, "y": {"field": "N", "type": "quantitative", "scale": {"domain": [-560, 1012], "nice": false, "zero": false}, "axis": {"values": [-500, 0, 500, 1000], "format": "d", "title": null}}}},
 {"data": {"values": [{"t": 1458}]}, "mark": {"type": "rule", "color": "red", "strokeWidth": 6.25, "strokeDash": [23, 10]}, "encoding": {"x": {"field": "t", "type": "quantitative"}}},
 {"data": {"values": [{"t": 270, "N": 700, "label": "North"}]}, "mark": {"type": "text", "align": "left", "baseline": "alphabetic", "font": "DejaVu Sans", "fontSize": 58, "color": "black"}, "encoding": {"x": {"field": "t", "type": "quantitative"}, "y": {"field": "N", "type": "quantitative"}, "text": {"field": "label"}}}
]},
{"width": 2790, "height": 369, "layer": [
 {"mark": {"type": "line", "color": "black", "strokeWidth": 1.25}, "encoding": {"x": {"field": "t", "type": "quantitative", "scale": {"domain": [0, 5400], "nice": false, "zero": false}, "axis": null}, "y": {"field": "R", "type": "quantitative", "scale": {"domain": [-560, 1012], "nice": false, "zero": false}, "axis": {"values": [-500, 0, 500, 1000], "format": "d", "title": null}}}},
 {"data": {"values": [{"t": 1458}]}, "mark": {"type": "rule", "color": "red", "strokeWidth": 6.25, "strokeDash": [23, 10]}, "encoding": {"x": {"field": "t", "type": "quantitative"}}},
 {"data": {"values": [{"t": 270, "R": 700, "label": "Radial"}]}, "mark": {"type": "text", "align": "left", "baseline": "alphabetic", "font": "DejaVu Sans", "fontSize": 58, "color": "black"}, "encoding": {"x": {"field": "t", "type": "quantitative"}, "y": {"field": "R", "type": "quantitative"}, "text": {"field": "label"}}}
]},
{"width": 2790, "height": 369, "layer": [
 {"mark": {"type": "line", "color": "black", "strokeWidth": 1.25}, "encoding": {"x": {"field": "t", "type": "quantitative", "scale": {"domain": [0, 5400], "nice": false, "zero": false}, "axis": {"values": [0, 1000, 2000, 3000, 4000, 5000], "format": "d", "title": "Time [s]", "labelFlush": false}}, "y": {"field": "T", "type": "quantitative", "scale": {"domain": [-560, 1012], "nice": false, "zero": false}, "axis": {"values": [-500, 0, 500, 1000], "format": "d", "title": null}}}},
 {"data": {"values": [{"t": 1458}]}, "mark": {"type": "rule", "color": "red", "strokeWidth": 6.25, "strokeDash": [23, 10]}, "encoding": {"x": {"field": "t", "type": "quantitative"}}},
 {"data": {"values": [{"t": 270, "T": 700, "label": "Transverse"}]}, "mark": {"type": "text", "align": "left", "baseline": "alphabetic", "font": "DejaVu Sans", "fontSize": 58, "color": "black"}, "encoding": {"x": {"field": "t", "type": "quantitative"}, "y": {"field": "T", "type": "quantitative"}, "text": {"field": "label"}}}
]}
],
"config": {
 "view": {"stroke": "black", "strokeWidth": 3.3},
 "font": "DejaVu Sans",
 "axis": {"labelFont": "DejaVu Sans", "labelFontSize": 41.7, "labelColor": "black", "tickColor": "black", "tickWidth": 3.3, "tickSize": 14.6, "labelPadding": 14.6, "domain": false, "grid": false, "titleFont": "DejaVu Sans", "titleFontSize": 41.7, "titleFontWeight": "normal", "titleColor": "black", "titlePadding": 14, "labelOverlap": false},
 "concat": {"spacing": 0}
}
}
